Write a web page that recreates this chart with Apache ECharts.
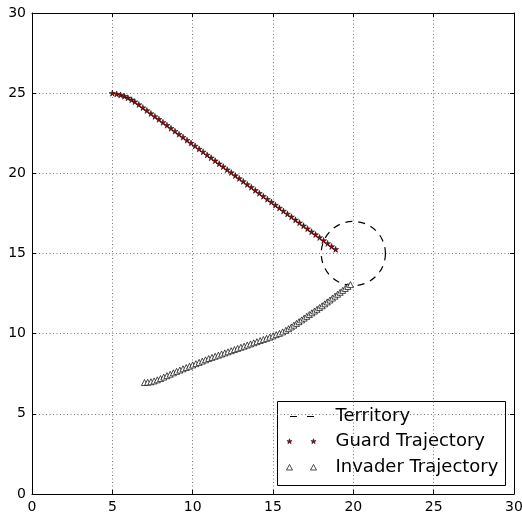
<!DOCTYPE html>
<html>
<head>
<meta charset="utf-8">
<script src="https://cdn.jsdelivr.net/npm/echarts@6/dist/echarts.min.js"></script>
<style>
  html, body { margin: 0; padding: 0; background: #fff; }
  #chart { width: 522px; height: 519px; }
</style>
</head>
<body>
<div id="chart"></div>
<script>
// Axis ticks (both axes run 0..30)
const tickValues = [0, 5, 10, 15, 20, 25, 30];
const tickLabels = ['0', '5', '10', '15', '20', '25', '30'];

// Territory: centre x, centre y, radius
const territory = [20, 15, 2];

// Guard trajectory samples [x, y]
const guardPath = [
  [5.00, 25.00], [5.27, 24.95], [5.52, 24.89], [5.75, 24.81], [5.97, 24.71], [6.20, 24.59],
  [6.40, 24.47], [6.65, 24.29], [6.90, 24.10], [7.15, 23.92], [7.40, 23.73], [7.65, 23.55],
  [7.90, 23.37], [8.15, 23.18], [8.40, 23.00], [8.65, 22.81], [8.90, 22.63], [9.15, 22.44],
  [9.40, 22.26], [9.65, 22.07], [9.90, 21.89], [10.15, 21.71], [10.40, 21.52], [10.65, 21.34],
  [10.90, 21.15], [11.15, 20.97], [11.40, 20.79], [11.65, 20.60], [11.90, 20.42], [12.15, 20.23],
  [12.40, 20.05], [12.65, 19.86], [12.90, 19.68], [13.15, 19.50], [13.40, 19.31], [13.65, 19.13],
  [13.90, 18.94], [14.15, 18.76], [14.40, 18.57], [14.65, 18.39], [14.90, 18.21], [15.15, 18.02],
  [15.40, 17.84], [15.65, 17.65], [15.90, 17.47], [16.15, 17.29], [16.40, 17.10], [16.65, 16.92],
  [16.90, 16.73], [17.15, 16.55], [17.40, 16.36], [17.65, 16.18], [17.90, 16.00], [18.15, 15.81],
  [18.40, 15.63], [18.65, 15.44], [18.90, 15.26]
];

// Invader trajectory samples [x, y]
const invaderPath = [
  [7.00, 6.95], [7.20, 6.97], [7.40, 7.00], [7.60, 7.05], [7.80, 7.12], [8.00, 7.20],
  [8.20, 7.29], [8.40, 7.38], [8.60, 7.47], [8.80, 7.56], [9.00, 7.65], [9.20, 7.73],
  [9.40, 7.81], [9.60, 7.89], [9.80, 7.97], [10.00, 8.05], [10.20, 8.13], [10.40, 8.21],
  [10.60, 8.29], [10.80, 8.37], [11.00, 8.45], [11.20, 8.52], [11.40, 8.59], [11.60, 8.66],
  [11.80, 8.73], [12.00, 8.80], [12.20, 8.87], [12.40, 8.94], [12.60, 9.01], [12.80, 9.08],
  [13.00, 9.15], [13.20, 9.22], [13.40, 9.29], [13.60, 9.36], [13.80, 9.43], [14.00, 9.50],
  [14.20, 9.57], [14.40, 9.64], [14.60, 9.71], [14.80, 9.78], [15.00, 9.86], [15.20, 9.94],
  [15.40, 10.02], [15.60, 10.11], [15.80, 10.21], [15.97, 10.31], [16.14, 10.42], [16.30, 10.53],
  [16.46, 10.64], [16.62, 10.75], [16.78, 10.86], [16.94, 10.97], [17.10, 11.08], [17.26, 11.19],
  [17.42, 11.30], [17.58, 11.41], [17.74, 11.52], [17.90, 11.63], [18.06, 11.74], [18.22, 11.86],
  [18.38, 11.98], [18.54, 12.10], [18.70, 12.22], [18.86, 12.34], [19.02, 12.46], [19.18, 12.58],
  [19.34, 12.70], [19.50, 12.82], [19.66, 12.94], [19.82, 13.06]
];

const legendNames = ['Territory', 'Guard Trajectory', 'Invader Trajectory'];

const FONT = 'DejaVu Sans';
// Five-pointed star outline on a unit circle
const STAR_PTS = [
  [0, -1], [0.2245, -0.309], [0.951, -0.309], [0.363, 0.118], [0.588, 0.809],
  [0, 0.382], [-0.588, 0.809], [-0.363, 0.118], [-0.951, -0.309], [-0.2245, -0.309]
];
const STAR = 'path://M' + STAR_PTS.map(p => p[0] + ',' + p[1]).join(' L') + ' Z';

const axisMin = tickValues[0];
const axisMax = tickValues[tickValues.length - 1];
const axisStep = tickValues[1] - tickValues[0];

function labelFor(v) {
  const i = tickValues.indexOf(v);
  return i >= 0 ? tickLabels[i] : '';
}

function makeAxis(position, main) {
  return {
    type: 'value',
    min: axisMin,
    max: axisMax,
    interval: axisStep,
    position: position,
    axisLine: { show: true, onZero: false, lineStyle: { color: '#000', width: 1 } },
    axisTick: { show: true, inside: true, length: 4, lineStyle: { color: '#000', width: 1 } },
    axisLabel: {
      show: main,
      color: '#000',
      fontSize: 14,
      fontFamily: FONT,
      margin: 6,
      formatter: labelFor
    },
    splitLine: {
      show: main,
      lineStyle: { color: '#555', width: 0.8, type: [1, 2.5] }
    }
  };
}

// Small legend glyphs
function starGlyph(cx, cy) {
  const r = 2.8;
  return {
    type: 'polygon',
    shape: { points: STAR_PTS.map(p => [cx + p[0] * r, cy + p[1] * r]) },
    style: { fill: '#a00000', stroke: '#000', lineWidth: 0.5 }
  };
}
function triGlyph(cx, cy) {
  return {
    type: 'polygon',
    shape: { points: [[cx, cy - 3], [cx + 3, cy + 2.5], [cx - 3, cy + 2.5]] },
    style: { fill: '#fff', stroke: '#000', lineWidth: 0.7 }
  };
}
function legendText(txt, y) {
  return {
    type: 'text',
    x: 58, y: y,
    style: { text: txt, fill: '#000', font: '18px "' + FONT + '"', verticalAlign: 'middle' }
  };
}

const chart = echarts.init(document.getElementById('chart'), null, { renderer: 'canvas' });

chart.setOption({
  animation: false,
  backgroundColor: '#fff',
  grid: { left: 32, top: 13, right: 8, bottom: 25, outerBoundsMode: 'none', containLabel: false },
  xAxis: [makeAxis('bottom', true), makeAxis('top', false)],
  yAxis: [makeAxis('left', true), makeAxis('right', false)],
  series: [
    {
      name: legendNames[0],
      type: 'custom',
      coordinateSystem: 'cartesian2d',
      z: 2,
      data: [territory],
      renderItem: function (params, api) {
        const c = api.coord([api.value(0), api.value(1)]);
        const r = api.size([api.value(2), api.value(2)]);
        return {
          type: 'circle',
          shape: { cx: c[0], cy: c[1], r: (r[0] + r[1]) / 2 },
          style: { fill: 'none', stroke: '#000', lineWidth: 1.2, lineDash: [7, 6] }
        };
      }
    },
    {
      name: legendNames[1],
      type: 'scatter',
      z: 3,
      symbol: STAR,
      symbolSize: 6,
      data: guardPath,
      itemStyle: { color: '#a00000', borderColor: '#000', borderWidth: 0.5, opacity: 1 }
    },
    {
      name: legendNames[2],
      type: 'scatter',
      z: 3,
      symbol: 'triangle',
      symbolSize: 6,
      data: invaderPath,
      itemStyle: { color: '#fff', borderColor: '#000', borderWidth: 0.7, opacity: 1 }
    }
  ],
  graphic: [
    {
      type: 'group',
      x: 277.5,
      y: 401.5,
      z: 100,
      children: [
        { type: 'rect', shape: { x: 0, y: 0, width: 228, height: 84 }, style: { fill: '#fff', stroke: '#000', lineWidth: 1 } },
        { type: 'line', shape: { x1: 12.5, y1: 15, x2: 36.5, y2: 15 }, style: { stroke: '#000', lineWidth: 1.2, lineDash: [7, 10] } },
        legendText(legendNames[0], 15),
        starGlyph(12, 40),
        starGlyph(36, 40),
        legendText(legendNames[1], 40),
        triGlyph(12, 66),
        triGlyph(36, 66),
        legendText(legendNames[2], 66)
      ]
    }
  ]
});
</script>
</body>
</html>
